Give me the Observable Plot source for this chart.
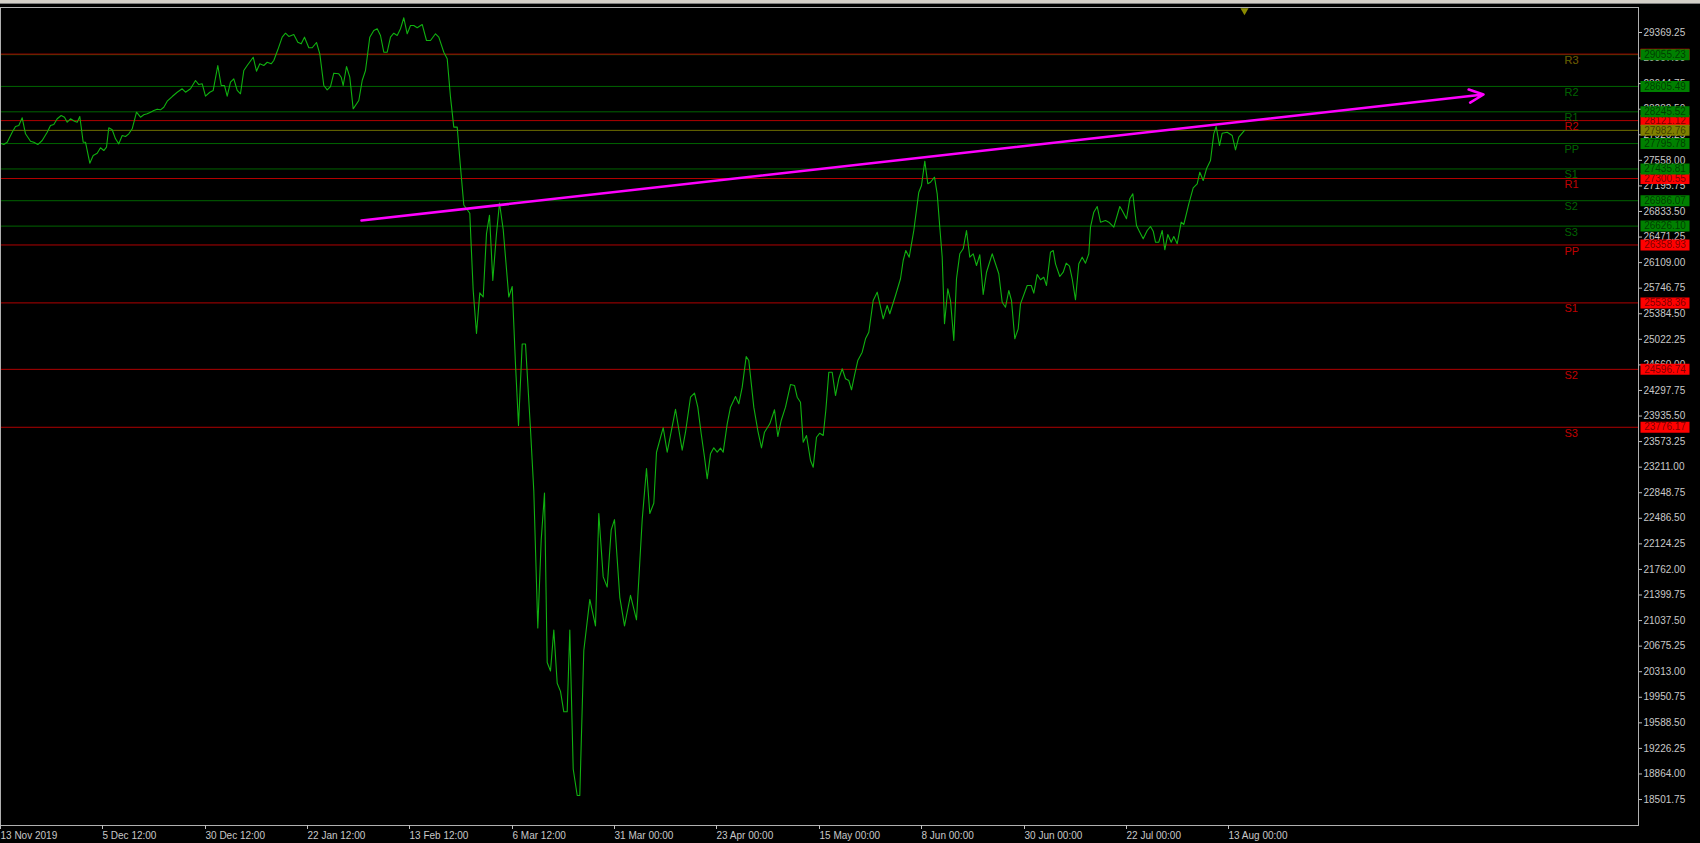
<!DOCTYPE html>
<html><head><meta charset="utf-8">
<script src="https://cdn.jsdelivr.net/npm/d3@7"></script>
<script src="https://cdn.jsdelivr.net/npm/@observablehq/plot@0.6"></script>
<style>
html,body{margin:0;padding:0;background:#000;overflow:hidden;width:1700px;height:843px}
#chart{position:absolute;left:0;top:0}
#strip{position:absolute;left:0;top:0;width:1700px;height:3px;background:#d4d0c8;border-bottom:1px solid #808080}
</style></head><body>
<div id="chart"></div><div id="strip"></div>
<script>
// bar position (chart time axis) and close price
const barPos = [
0,3.3,6.7,11.7,15,18.3,21.7,25,30,33.3,37.3,41.7,46.7,50,53.3,56.7,60.7,64,66.7,70,
74,76.7,79.3,82.7,85,89.3,92.7,96.7,100,103.3,106,108.3,111.7,115,118.3,121.7,125,128.3,131.7,136,
140,143.3,146.7,150,153.3,156.7,160,163.3,166.7,171.7,176.7,181.7,185,190,195,198.3,201.7,205,209.3,212.7,
217.3,220.7,224,226.7,230,233.3,236.7,240,243.3,246.7,252.7,256,259.3,263.3,266.7,270.7,273.3,277.3,281.7,285,
288.3,293.3,297.3,300.7,304,308.3,311.7,316,319.3,323.3,326.7,330,333.3,338.3,340.7,342.7,346,349.3,352.7,358.3,
361.7,365,369.3,373.3,376.7,380,383.3,386.7,390,393.3,396.7,400,403.3,406.7,410,413.3,416.7,421.7,426,430,
435,438.3,443.3,446.7,450,453.3,456.7,460,
463.3,469.3,470.7,472.7,476,479.3,482.7,486,489,492.3,496,499,502.7,508.3,511.7,515,518,521.7,525,530,
533.3,537.3,540.7,544,546.7,550,553.3,556.7,560,563.3,566.7,569.3,572.7,576.7,579.3,583.3,589.3,595,598.3,602.7,
606.7,610.7,614,619.3,624,630,636,641.7,646,649.3,653.3,656,662.7,666.7,675,681.7,
685,690,694,697.3,700.7,704,706.7,710,713.3,716.7,720,722.7,726.7,730,735,738.3,741.7,745.7,748.3,753.3,
757.3,761,764,769.3,774,777.3,780.7,785,790,794,796.7,800,802.7,806,810,812.7,816,819.3,822.7,825.3,
828.3,831.7,835,838.3,841.7,845,848.3,851,854,857.3,861.7,865,868.3,872.7,876.7,882.7,886.7,889.3,895,900,
902.7,905.3,908.7,913.3,918.3,921,924.3,927.3,930,934,936.7,939.3,941.7,944,947.3,950,953.3,956,959.3,962.7,
966,969.3,972.7,976,979.3,982.7,986,991.7,998.3,1001.7,1005,1008.3,1011,1014.3,1017.7,1020,
1026.7,1030.7,1033.3,1036.7,1040,1043.3,1046,1050,1052.7,1055,1059.3,1062.7,1065.7,1069,1071.7,1075,1078.3,1081.7,1085,1088.3,
1090,1093.3,1096.7,1100,1105,1108.3,1113.3,1119.3,1121.7,1126,1129.3,1132.3,1136,1139.3,1142.7,1146.7,1150,1152.7,1155,1158.3,
1161.7,1164.3,1167.3,1170.7,1173.3,1176.7,1180.7,1183.3,1188.3,1192.7,1196.7,1199.3,1202.7,1206,1210,1213.3,1215.7,1219,1221.7,1226.7,
1231.7,1235,1238.3,1244
];
const closePrice = [
27801,27782,27815,27957,28037,28052,28161,27934,27829,27815,27782,27839,27957,28052,28066,28147,28193,28169,28098,28147,
28113,28098,28179,27815,27815,27518,27627,27659,27736,27697,27744,28019,27991,27863,27792,27910,27896,27934,28005,28240,
28169,28203,28217,28240,28264,28283,28274,28311,28396,28462,28523,28572,28523,28572,28689,28632,28642,28467,28523,28548,
28902,28618,28618,28467,28665,28713,28548,28501,28831,28902,29019,28821,28926,28902,28948,28926,28973,29124,29303,29359,
29313,29341,29232,29209,29303,29153,29153,29228,29067,28618,28557,28604,28793,28784,28736,28618,28888,28736,28288,28406,
28689,28831,29303,29398,29422,29327,29090,29090,29303,29359,29327,29422,29578,29351,29468,29468,29436,29483,29256,29256,
29351,29303,29090,28997,28453,28028,28028,27461,
26925,26809,26346,25714,25105,25680,25622,26522,26781,25856,26522,26954,26578,25622,25771,24665,23801,24956,24956,23745,
22872,20932,22178,22843,20443,20324,20904,20150,20034,19745,19745,20904,18935,18559,18559,20613,21337,20962,22554,21656,
21512,22322,22467,21367,20962,21396,21048,22467,23191,22554,22699,23422,23770,23422,24031,23451,
23706,24202,24259,24061,23684,23352,23046,23400,23485,23423,23480,23423,23825,24061,24212,24109,24344,24779,24722,24061,
23730,23485,23706,23825,24024,23645,23872,24061,24382,24368,24202,24131,23565,23660,23305,23210,23635,23692,23660,24014,
24556,24556,24226,24463,24605,24463,24439,24307,24510,24722,24840,25030,25123,25572,25690,25313,25501,25384,25643,25880,
26139,26281,26186,26564,27107,27202,27546,27226,27248,27319,27084,26611,26186,25242,25738,25572,25006,25880,26234,26305,
26564,26186,26234,26068,26220,25657,25973,26234,25951,25548,25477,25714,25572,25030,25171,25525,
25785,25785,25676,25941,25866,25902,25785,26257,26281,26092,25912,25973,26101,26058,25880,25582,26092,26186,26101,26234,
26611,26823,26904,26682,26706,26682,26611,26904,26847,26730,27013,27084,26635,26540,26446,26564,26621,26554,26398,26398,
26564,26291,26507,26398,26479,26376,26682,26649,26942,27169,27226,27390,27272,27438,27556,27934,28037,27768,27943,27957,
27910,27707,27886,27983
];

// pivot levels
const pivotNames = ["R3","R2","R1","PP","S1","S2","S3"];
const greenPivots = [29055.23, 28605.49, 28245.52, 27795.78, 27435.81, 26986.07, 26626.10];
const redPivots   = [29062.74, 28121.12, 27300.55, 26358.93, 25538.36, 24596.74, 23776.17];
const currentPrice = [27982.76];

// trend line (bar position, price)
const trendStart = [361, 26705.7];
const trendEnd   = [1483, 28490.9];

// axis ticks
const yTicks = [29369.25,29007.00,28644.75,28282.50,27920.25,27558.00,27195.75,26833.50,26471.25,26109.00,
  25746.75,25384.50,25022.25,24660.00,24297.75,23935.50,23573.25,23211.00,22848.75,22486.50,
  22124.25,21762.00,21399.75,21037.50,20675.25,20313.00,19950.75,19588.50,19226.25,18864.00,18501.75];
const xTicks = [0,102,205,307,409,512,614,716,819,921,1024,1126,1228];
const xTickLabels = ["13 Nov 2019","5 Dec 12:00","30 Dec 12:00","22 Jan 12:00","13 Feb 12:00","6 Mar 12:00",
  "31 Mar 00:00","23 Apr 00:00","15 May 00:00","8 Jun 00:00","30 Jun 00:00","22 Jul 00:00","13 Aug 00:00"];

const series = barPos.map((t, i) => ({t, v: closePrice[i]}));
const green = pivotNames.map((name, i) => ({name, v: greenPivots[i]}));
const red = pivotNames.map((name, i) => ({name, v: redPivots[i]}));
const trend = [{x1: trendStart[0], y1: trendStart[1], x2: trendEnd[0], y2: trendEnd[1]}];

const font = "'Liberation Sans', Arial, sans-serif";
const boxSymbol = {draw(ctx) { ctx.moveTo(-24.5,-5.5); ctx.lineTo(24.5,-5.5); ctx.lineTo(24.5,5.5); ctx.lineTo(-24.5,5.5); ctx.closePath(); }};
const boxDx = 26.5;

const chart = Plot.plot({
  width: 1700, height: 843,
  marginLeft: 0, marginRight: 62, marginTop: 7, marginBottom: 18,
  style: {background: "#000", color: "#c0c0c0", fontFamily: font, fontSize: "10px", overflow: "visible"},
  x: {domain: [0, 1638], axis: null},
  y: {domain: [18134, 29723.5], axis: null},
  marks: [
    Plot.ruleY(green, {y: "v", stroke: "#006400", strokeWidth: 1}),
    Plot.ruleY(red, {y: "v", stroke: "#b00000", strokeWidth: 1}),
    Plot.ruleY(currentPrice, {stroke: "#6e6e00", strokeWidth: 1}),
    Plot.line(series, {x: "t", y: "v", stroke: "#10b010", strokeWidth: 1.1}),
    Plot.arrow(trend, {x1: "x1", y1: "y1", x2: "x2", y2: "y2", stroke: "#ff00ff", strokeWidth: 2.6, headLength: 9, headAngle: 50}),
    Plot.frame({stroke: "#b0b0b0"}),
    Plot.axisY({anchor: "right", ticks: yTicks, tickFormat: d => d.toFixed(2), tickSize: 3, tickPadding: 2, fontSize: 10, label: null, fill: "#c8c8c8", stroke: "#c0c0c0"}),
    Plot.axisX({ticks: xTicks, tickFormat: d => xTickLabels[xTicks.indexOf(d)], textAnchor: "start", tickSize: 4, tickPadding: 2, fontSize: 10, label: null, fill: "#c8c8c8", stroke: "#c0c0c0"}),
    Plot.text(red, {y: "v", text: "name", frameAnchor: "right", textAnchor: "start", dx: -74, dy: 6, fill: "#c00000", fontSize: 11}),
    Plot.text(green, {y: "v", text: "name", frameAnchor: "right", textAnchor: "start", dx: -74, dy: 6, fill: "#00a000", fillOpacity: 0.62, fontSize: 11}),
    Plot.dot(red, {y: "v", frameAnchor: "right", dx: boxDx, symbol: boxSymbol, r: 5, fill: "#ff0000", stroke: null}),
    Plot.text(red, {y: "v", text: d => d.v.toFixed(2), frameAnchor: "right", dx: boxDx, textAnchor: "middle", fill: "#000", fillOpacity: 0.55, fontSize: 10}),
    Plot.dot(green, {y: "v", frameAnchor: "right", dx: boxDx, symbol: boxSymbol, r: 5, fill: "#008000", stroke: null}),
    Plot.text(green, {y: "v", text: d => d.v.toFixed(2), frameAnchor: "right", dx: boxDx, textAnchor: "middle", fill: "#000", fillOpacity: 0.55, fontSize: 10}),
    Plot.dot(currentPrice, {y: d => d, frameAnchor: "right", dx: boxDx, symbol: boxSymbol, r: 5, fill: "#808000", stroke: null}),
    Plot.text(currentPrice, {y: d => d, text: d => d.toFixed(2), frameAnchor: "right", dx: boxDx, textAnchor: "middle", fill: "#000", fillOpacity: 0.55, fontSize: 10}),
    Plot.dot([barPos[barPos.length - 1]], {x: d => d, frameAnchor: "top", dy: 3, symbol: "triangle", rotate: 180, r: 3, fill: "#8a8a00", stroke: null})
  ]
});
document.getElementById("chart").appendChild(chart);
</script>
</body></html>
